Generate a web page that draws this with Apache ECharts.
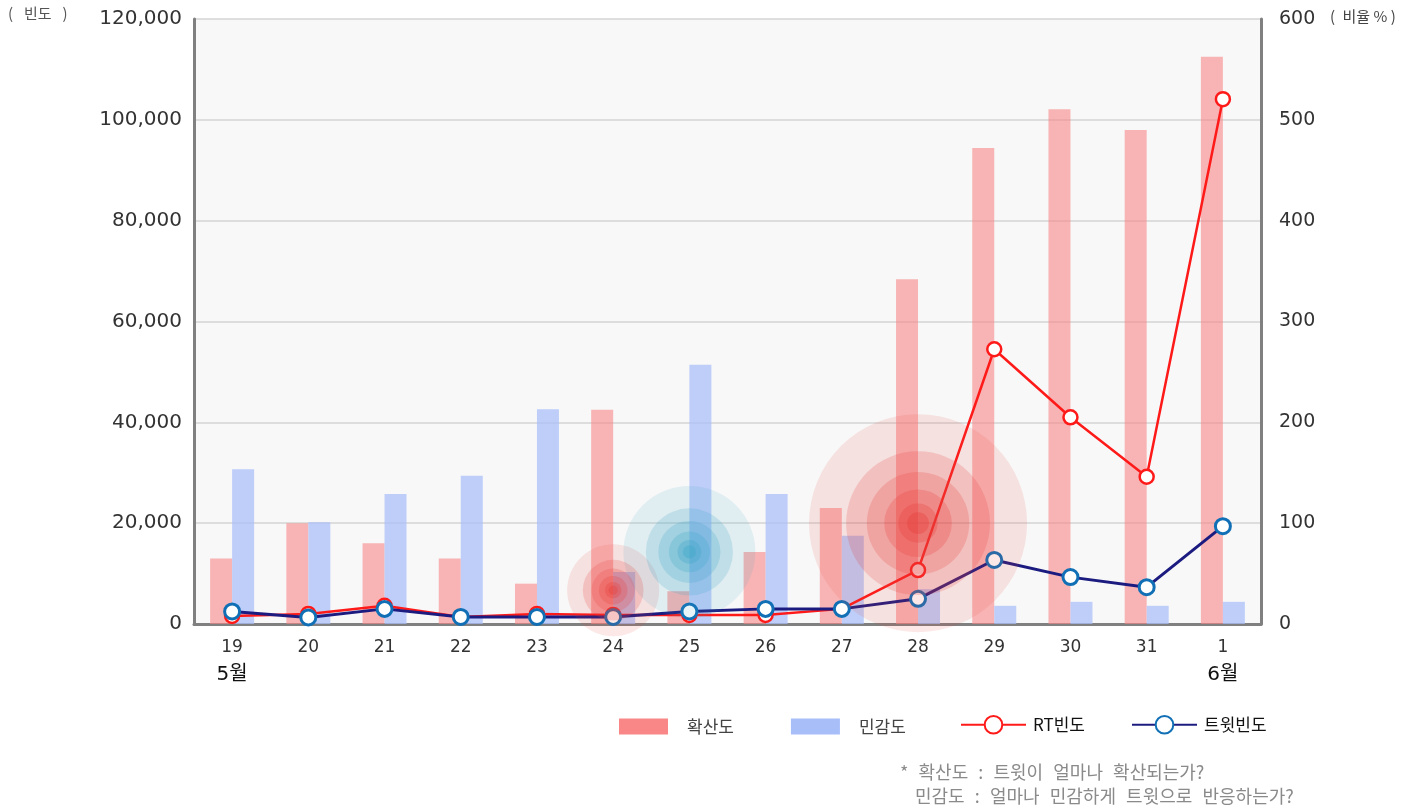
<!DOCTYPE html>
<html><head><meta charset="utf-8">
<script src="https://cdn.jsdelivr.net/npm/echarts@6/dist/echarts.min.js"></script>
<style>html,body{margin:0;padding:0;background:#fff}#c{width:1428px;height:812px}</style>
</head><body><div id="c"></div>
<script>
const categories = ['19','20','21','22','23','24','25','26','27','28','29','30','31','1'];
const monthLabels = ['5월','','','','','','','','','','','','','6월'];
const spreadValues = [13000,20000,16000,13000,8000,42500,6500,14300,23000,68400,94400,102100,98000,112500];
const sensitivityValues = [30700,20200,25800,29400,42600,10300,51400,25800,17500,6900,3600,4400,3600,4400];
const rtFreq = [1600,2000,3600,1400,2000,1800,1800,1800,3000,10700,54500,41000,29200,104100];
const tweetFreq = [2500,1300,3000,1400,1400,1400,2500,3000,3000,5000,12700,9300,7300,19400];
const leftTicks = [0,20000,40000,60000,80000,100000,120000];
const rightTicks = [0,100,200,300,400,500,600];
const highlightCats = ['24','25','28'];
const highlightValues = [6700,14300,20000];

const FONT = '"Noto Sans CJK KR", "Noto Sans", sans-serif';
const NUMFONT = '"DejaVu Sans", "Noto Sans CJK KR", sans-serif';
const SP = '\u2002';
const WSP = '\u2002\u200A';
const rippleColors = ['#e8403a','#3aa6c8','#e8403a'];
const rippleSizes = [92,132,218];
const ringScale = [1,0.66,0.47,0.31,0.18,0.1];
const ringOpacity = [0.12,0.2,0.22,0.25,0.3,0.35];

const rippleSeries = ringScale.map((s,i)=>({
  type:'scatter', name:'ring'+i, silent:true, z:20,
  symbolSize:(v,p)=>rippleSizes[p.dataIndex]*s,
  data: highlightCats.map((c,k)=>({value:[c,highlightValues[k]], itemStyle:{color:rippleColors[k], opacity:ringOpacity[i]}})),
  animation:false
}));

const chart = echarts.init(document.getElementById('c'));
chart.setOption({
  animation:false,
  backgroundColor:'#fff',
  textStyle:{fontFamily:FONT},
  grid:{left:194,right:167,top:19,bottom:188,show:true,backgroundColor:'#f8f8f8',borderWidth:0},
  legend:[
    {left:614,top:713,itemWidth:49,itemHeight:16,itemGap:57,icon:'rect',
     textStyle:{fontFamily:FONT,fontSize:17,color:'#444',padding:[0,0,0,14]},
     data:[{name:'확산도',itemStyle:{color:'#f98787',opacity:1}},{name:'민감도',itemStyle:{color:'#a7bef9',opacity:1}}]},
    {left:955,top:710,itemWidth:65,itemHeight:22,itemGap:46,
     textStyle:{fontFamily:FONT,fontSize:17,color:'#111',padding:[0,0,0,2]},
     data:['RT빈도','트윗빈도']}
  ],
  xAxis:{type:'category',data:categories,
    axisLine:{lineStyle:{color:'#808080',width:3}},
    axisTick:{show:false},
    axisLabel:{interval:0,margin:10,color:'#333',fontSize:17,fontFamily:NUMFONT,lineHeight:27,
      formatter:(v,i)=> monthLabels[i] ? v+'\n{m|'+monthLabels[i]+'}' : v,
      rich:{m:{fontSize:20,color:'#111',fontFamily:NUMFONT,lineHeight:27}}}
  },
  yAxis:[
    {type:'value',min:0,max:120000,interval:20000,
     axisLine:{show:true,lineStyle:{color:'#808080',width:3}},
     axisTick:{show:false},
     splitLine:{lineStyle:{color:'#d4d4d4',width:1.5}},
     axisLabel:{margin:12,color:'#333',fontSize:20,fontFamily:NUMFONT,
       formatter:v=>v.toLocaleString('en-US')}},
    {type:'value',min:0,max:600,interval:100,
     axisLine:{show:true,lineStyle:{color:'#808080',width:3}},
     axisTick:{show:false},splitLine:{show:false},
     axisLabel:{margin:18,color:'#333',fontSize:19,fontFamily:NUMFONT}}
  ],
  graphic:[
    {type:'text',left:8,top:6,style:{text:'('+SP+' 빈도 '+SP+')',font:'15px '+FONT,fill:'#555'}},
    {type:'text',left:1330,top:9,style:{text:'('+SP+'비율 % )',font:'15px '+FONT,fill:'#444'}},
    {type:'text',left:900,top:763,style:{text:['*','확산도',':','트윗이','얼마나','확산되는가?'].join(WSP),font:'18px '+FONT,fill:'#8a8a8a'}},
    {type:'text',left:915,top:787,style:{text:['민감도',':','얼마나','민감하게','트윗으로','반응하는가?'].join(WSP),font:'18px '+FONT,fill:'#8a8a8a'}}
  ],
  series:[
    {type:'bar',name:'확산도',data:spreadValues,barWidth:22,barGap:'0%',itemStyle:{color:'#f98787',opacity:0.6}},
    {type:'bar',name:'민감도',data:sensitivityValues,barWidth:22,barGap:'0%',itemStyle:{color:'#a7bef9',opacity:0.72}},
    {type:'line',name:'RT빈도',data:rtFreq,z:5,symbol:'circle',symbolSize:14,
     lineStyle:{color:'#ff1a1a',width:2.5},
     itemStyle:{color:'#fff',borderColor:'#ff1a1a',borderWidth:2.5}},
    {type:'line',name:'트윗빈도',data:tweetFreq,z:6,symbol:'circle',symbolSize:15,
     lineStyle:{color:'#1c1c80',width:3},
     itemStyle:{color:'#fff',borderColor:'#1170b5',borderWidth:3}}
  ].concat(rippleSeries)
});
</script></body></html>
